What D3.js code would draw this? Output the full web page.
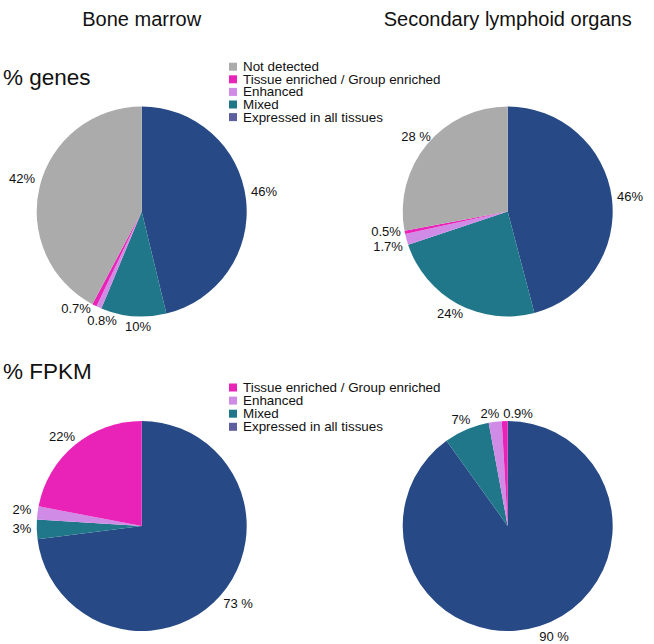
<!DOCTYPE html>
<html><head><meta charset="utf-8">
<script src="https://cdn.jsdelivr.net/npm/d3@7/dist/d3.min.js"></script>
<style>body{margin:0;background:#fff}svg{display:block;font-family:"Liberation Sans",Arial,Helvetica,sans-serif}</style>
</head><body>
<script>
const columnTitles = ["Bone marrow", "Secondary lymphoid organs"];
const rowTitles = ["% genes", "% FPKM"];
const categories = ["Expressed in all tissues", "Mixed", "Enhanced", "Tissue enriched / Group enriched", "Not detected"];
const sliceColors = ["#274a86", "#21778a", "#d08be6", "#ea23b8", "#ababab"];
const legendSwatchColors = ["#5d5f9e", "#21778a", "#d08be6", "#ea23b8", "#ababab"];
const genesBoneMarrow = [46, 10, 0.8, 0.7, 42];
const genesLymphoid = [46, 24, 1.7, 0.5, 28];
const fpkmBoneMarrow = [73, 3, 2, 22, 0];
const fpkmLymphoid = [90, 7, 2, 0.9, 0];
const labelsGenesBM = ["46%", "10%", "0.8%", "0.7%", "42%"];
const labelsGenesLy = ["46%", "24%", "1.7%", "0.5%", "28 %"];
const labelsFpkmBM = ["73 %", "3%", "2%", "22%", ""];
const labelsFpkmLy = ["90 %", "7%", "2%", "0.9%", ""];
const legendGenesOrder = ["Not detected", "Tissue enriched / Group enriched", "Enhanced", "Mixed", "Expressed in all tissues"];
const legendFpkmOrder = ["Tissue enriched / Group enriched", "Enhanced", "Mixed", "Expressed in all tissues"];

const W = 654, H = 644;
const svg = d3.select("body").append("svg").attr("width", W).attr("height", H);
const color = d3.scaleOrdinal().domain(categories).range(sliceColors);
const swatch = d3.scaleOrdinal().domain(categories).range(legendSwatchColors);

const R = 105;
const cx = [141.7, 507.7], cy = [211.5, 526];

// label positions (center x, middle y) as polar offsets handled by a label-radius map
const pies = [
  {vals: genesBoneMarrow, labels: labelsGenesBM, c: 0, r: 0,
   lab: [[264,191],[138,326],[102,320],[76,308],[22,178]]},
  {vals: genesLymphoid, labels: labelsGenesLy, c: 1, r: 0,
   lab: [[630,196],[450,313],[388,246],[386,231],[416,136]]},
  {vals: fpkmBoneMarrow, labels: labelsFpkmBM, c: 0, r: 1,
   lab: [[238,603],[22,528],[22,509],[62,436],[0,0]]},
  {vals: fpkmLymphoid, labels: labelsFpkmLy, c: 1, r: 1,
   lab: [[554,636],[461,419],[490,413],[518,413],[0,0]]}
];

const pie = d3.pie().sort(null).value(d => d.v);
const arc = d3.arc().innerRadius(0).outerRadius(R);

pies.forEach(p => {
  const data = categories.map((k, i) => ({k, v: p.vals[i], label: p.labels[i], lp: p.lab[i]})).filter(d => d.v > 0);
  const g = svg.append("g").attr("transform", `translate(${cx[p.c]},${cy[p.r]})`);
  g.selectAll("path").data(pie(data)).join("path")
    .attr("d", arc).attr("fill", d => color(d.data.k));
  svg.append("g").selectAll("text").data(data).join("text")
    .attr("x", d => d.lp[0]).attr("y", d => d.lp[1])
    .attr("text-anchor", "middle").attr("dominant-baseline", "central")
    .attr("font-size", 13).attr("fill", "#111").text(d => d.label);
});

// column titles
svg.selectAll(".ct").data(columnTitles).join("text")
  .attr("x", (d, i) => cx[i]).attr("y", 26).attr("text-anchor", "middle")
  .attr("font-size", 20).attr("fill", "#111").text(d => d);
// row titles
svg.selectAll(".rt").data(rowTitles).join("text")
  .attr("x", 3).attr("y", (d, i) => [85, 379][i])
  .attr("font-size", 22.5).attr("fill", "#111").text(d => d);

function legend(items, y0, step) {
  const lg = svg.append("g");
  const rows = lg.selectAll("g").data(items).join("g")
    .attr("transform", (d, i) => `translate(229,${y0 + i * step})`);
  rows.append("rect").attr("x", 0).attr("y", -4).attr("width", 8).attr("height", 8)
    .attr("fill", d => swatch(d));
  rows.append("text").attr("x", 14).attr("y", 0).attr("dominant-baseline", "central")
    .attr("font-size", 13.4).attr("fill", "#111").text(d => d);
}
legend(legendGenesOrder, 66.7, 12.6);
legend(legendFpkmOrder, 387.5, 13.1);
</script>
</body></html>
